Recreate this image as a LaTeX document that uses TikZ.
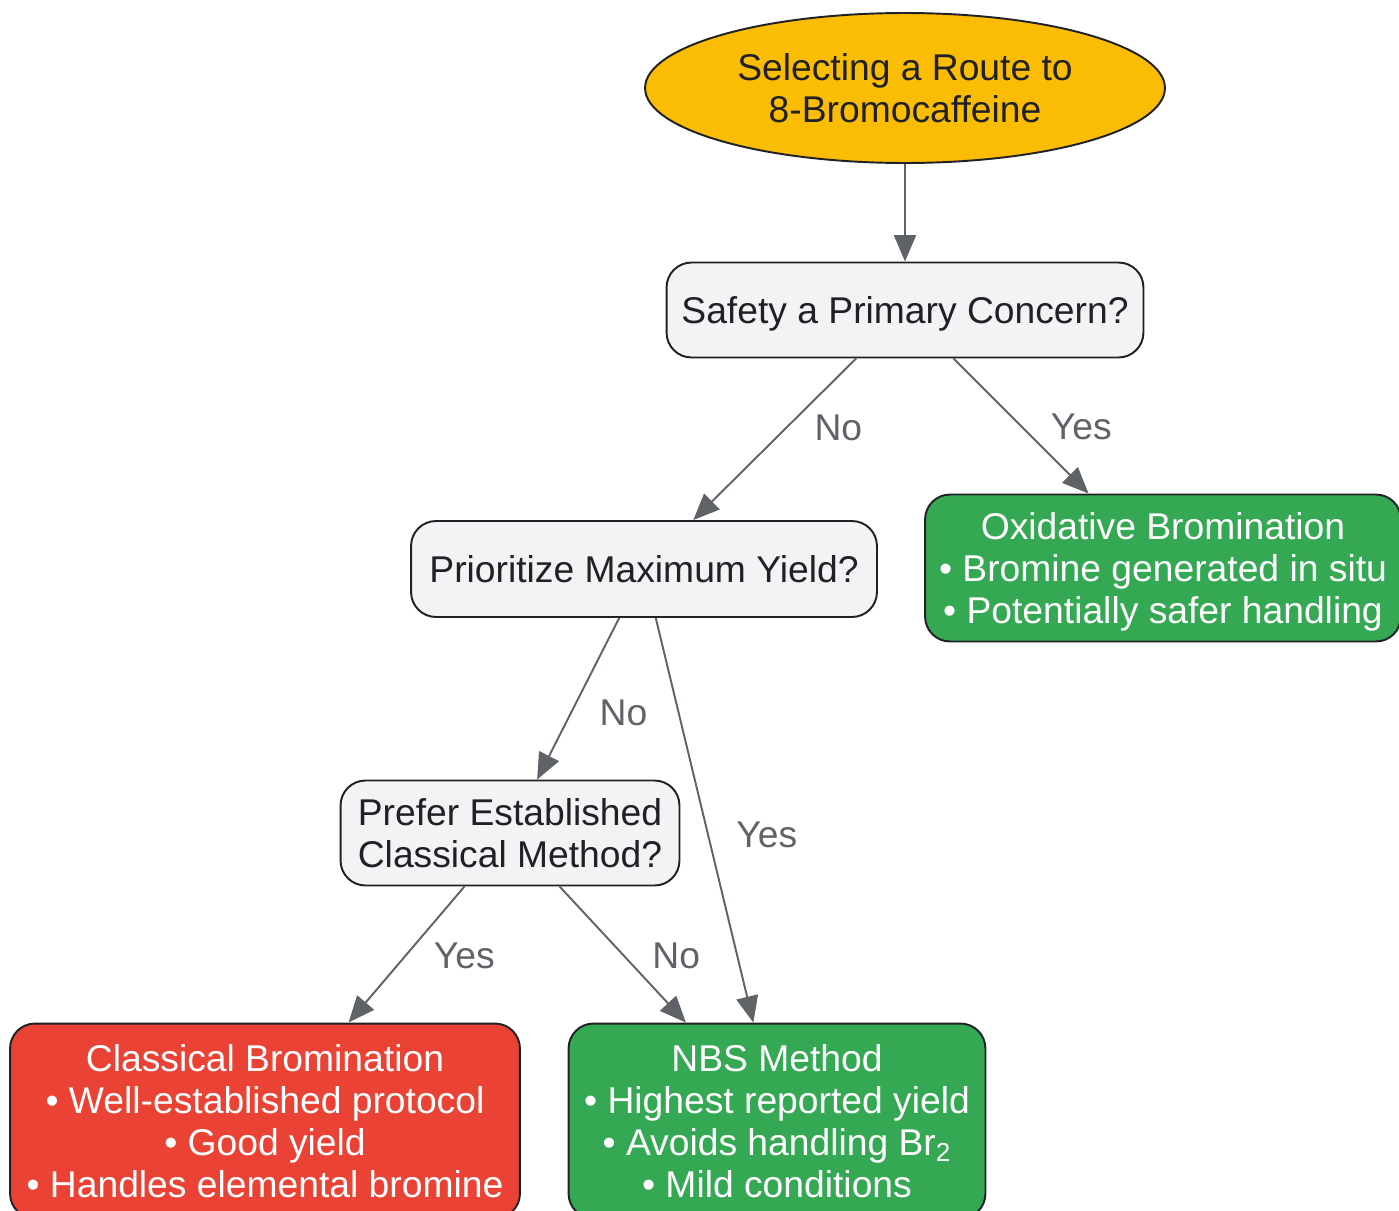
\documentclass[tikz,border=0pt]{standalone}
\usepackage{fontspec}
\setmainfont{Liberation Sans}
\usepackage{xcolor}
\usetikzlibrary{arrows.meta,shapes.geometric}

\definecolor{startgold}{HTML}{FBBC04}
\definecolor{askgray}{HTML}{F1F3F4}
\definecolor{goodgreen}{HTML}{34A853}
\definecolor{warnred}{HTML}{EA4335}
\definecolor{inkdark}{HTML}{202124}
\definecolor{linegray}{HTML}{5F6368}

\begin{document}
\begin{tikzpicture}[x=0.02cm, y=-0.02cm,
  every node/.style={font=\fontsize{21.2}{24}\selectfont, align=center},
  goal/.style={ellipse, draw=inkdark, line width=1.1pt, fill=startgold,
    text=inkdark, inner sep=0pt, text depth=0pt, minimum width=10.4cm, minimum height=3cm},
  ask/.style={rectangle, rounded corners=0.5cm, draw=inkdark, line width=1.1pt,
    fill=askgray, text=inkdark, inner sep=0pt, text depth=0pt},
  pick/.style={rectangle, rounded corners=0.5cm, draw=inkdark, line width=1.1pt,
    text=white, inner sep=0pt, text depth=0pt},
  flow/.style={draw=linegray, line width=1.1pt, -{Triangle[length=15pt,width=12.5pt]}},
  lbl/.style={right=0.55cm, inner sep=0pt, text=linegray}]
  \useasboundingbox (0,0) rectangle (1399,1210);

  \node[goal] (A) at (905,88) {Selecting a Route to\\8-Bromocaffeine};
  \node[ask, minimum width=9.54cm, minimum height=1.9cm] (B) at (905,310)
    {Safety a Primary Concern?};
  \node[ask, minimum width=9.32cm, minimum height=1.92cm] (C) at (644,569)
    {Prioritize Maximum Yield?};
  \node[pick, fill=goodgreen, minimum width=9.52cm, minimum height=2.94cm] (D) at (1163,568)
    {Oxidative Bromination\\\textbullet\ Bromine generated in situ\\\textbullet\ Potentially safer handling};
  \node[ask, minimum width=6.78cm, minimum height=2.1cm] (E) at (510,833)
    {Prefer Established\\Classical Method?};
  \node[pick, fill=warnred, minimum width=10.2cm, minimum height=3.9cm] (F) at (265,1121)
    {Classical Bromination\\\textbullet\ Well-established protocol\\\textbullet\ Good yield\\\textbullet\ Handles elemental bromine};
  \node[pick, fill=goodgreen, minimum width=8.34cm, minimum height=3.9cm] (G) at (777,1121)
    {NBS Method\\\textbullet\ Highest reported yield\\\textbullet\ Avoids handling Br\textsubscript{2}\\\textbullet\ Mild conditions};

  \path (A) edge [flow] (B)
        (B) edge [flow] node [lbl, pos=0.43] {No} (C)
            edge [flow] node [lbl, pos=0.51] {Yes} (D)
        (C) edge [flow] node [lbl, pos=0.585] {No} (E)
            edge [flow] node [lbl, pos=0.535] {Yes} (G)
        (E) edge [flow] node [lbl, pos=0.51] {Yes} (F)
            edge [flow] node [lbl, pos=0.51] {No} (G);
\end{tikzpicture}
\end{document}
